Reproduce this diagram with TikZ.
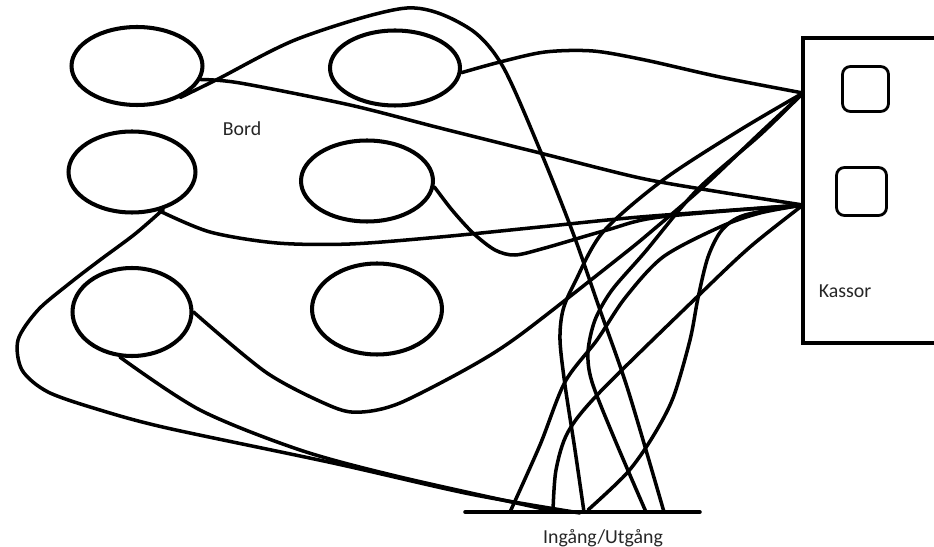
\documentclass[tikz,border=0pt]{standalone}
\usepackage{fontspec}
\newfontfamily\lblfont{Carlito}
\usetikzlibrary{shapes.geometric}
\begin{document}
\begin{tikzpicture}[x=0.02cm,y=-0.02cm,
  tbl/.style={ellipse,draw,line width=2.3pt,inner sep=0pt},
  wire/.style={line width=2pt,line cap=round,line join=round},
  sqbox/.style={draw,line width=1.6pt,rounded corners=4.5pt,inner sep=0pt},
  lbl/.style={font=\lblfont\fontsize{11.3}{13}\selectfont,text=black!85,inner sep=0pt}]
\useasboundingbox (0,0) rectangle (934,547);

% tables
\node[tbl,minimum width=2.62cm,minimum height=1.56cm] (E1) at (137,66) {};
\node[tbl,minimum width=2.60cm,minimum height=1.50cm] (E2) at (395,68) {};
\node[tbl,minimum width=2.54cm,minimum height=1.62cm] (E3) at (132,172) {};
\node[tbl,minimum width=2.64cm,minimum height=1.62cm] (E4) at (367,181) {};
\node[tbl,minimum width=2.38cm,minimum height=1.76cm] (E5) at (132,312) {};
\node[tbl,minimum width=2.60cm,minimum height=1.82cm] (E6) at (377,309) {};
\node[lbl] (bord) at (242,129) {Bord};

% cash desks
\draw[line width=2.5pt] (934,38) -- (803,38) -- (803,343) -- (934,343);
\node[sqbox,minimum width=0.92cm,minimum height=0.90cm] (S1) at (865.5,89) {};
\node[sqbox,minimum width=1.00cm,minimum height=0.96cm] (S2) at (861.5,191.5) {};
\node[lbl] (kassor) at (845,291) {Kassor};
\coordinate (K1) at (803,93);
\coordinate (K2) at (803,205);

% entrance
\coordinate (entL) at (465,512);
\coordinate (entR) at (700,512);
\draw[wire] (entL) -- (entR);
\node[lbl] (ing) at (603,538) {Ingång/Utgång};
\coordinate (G1) at (510,512);
\coordinate (G2) at (553,511);
\coordinate (G3) at (580,513);
\coordinate (G4) at (584,512);
\coordinate (G5) at (588,510);
\coordinate (G6) at (646,512);
\coordinate (G7) at (664,512);

% connectors
\draw[wire] plot[smooth] coordinates {(E1.-36) (218,79) (300,38) (407,8) (467,27) (502,65) (540,150) (573,233) (600,310) (628,390) (G7)};
\draw[wire] plot[smooth] coordinates {(E1.-12) (240,83) (350,105) (440,128) (540,153) (640,178) (720,192) (K2)};
\draw[wire] plot[smooth] coordinates {(E2.-4) (500,62) (545,52) (593,51) (645,60) (720,77) (K1)};
\draw[wire] plot[smooth] coordinates {(E3.-55) (210,232) (277,243) (350,244) (440,237) (540,227) (640,217) (K2)};
\draw[wire] plot[smooth] coordinates {(E3.-50) (135,234) (100,260) (70,283) (38,310) (18,340) (22,370) (48,392) (100,410) (167,428) (333,463) (470,494) (G3)};
\draw[wire] plot[smooth] coordinates {(E5.-105) (200,410) (300,450) (400,477) (G2)};
\draw[wire] plot[smooth] coordinates {(E5.east) (267,373) (333,407) (362,412) (400,403) (470,367) (520,335) (620,257) (653,230) (703,187) (760,133) (K1)};
\draw[wire] plot[smooth] coordinates {(E4.-5) (452,210) (473,233) (495,250) (515,255) (545,248) (607,230) (660,217) (K2)};
\draw[wire] plot[smooth] coordinates {(G1) (540,445) (565,382) (597,340) (625,298) (663,257) (720,227) (760,213) (K2)};
\draw[wire] plot[smooth] coordinates {(G2) (556,470) (568,432) (600,392) (697,297) (750,247) (K2)};
\draw[wire] plot[smooth] coordinates {(G4) (575,450) (565,385) (560,340) (563,310) (575,282) (603,232) (663,180) (740,130) (K1)};
\draw[wire] plot[smooth] coordinates {(G5) (627,473) (652,438) (673,398) (690,340) (698,298) (708,257) (722,230) (745,215) (K2)};
\draw[wire] plot[smooth] coordinates {(G6) (615,440) (592,382) (588,352) (595,320) (612,290) (645,252) (697,190) (760,135) (K1)};
\end{tikzpicture}
\end{document}
